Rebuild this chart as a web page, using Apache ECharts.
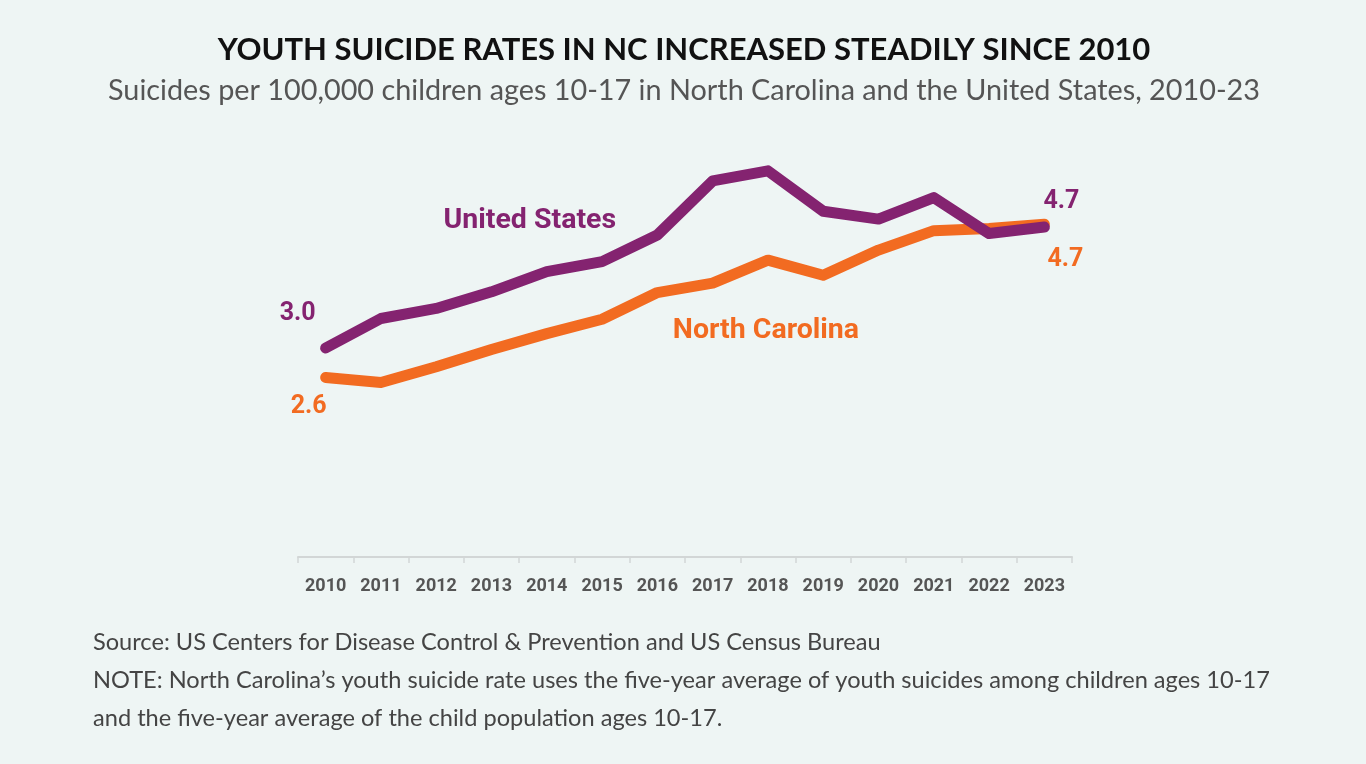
<!DOCTYPE html>
<html>
<head>
<meta charset="utf-8">
<script src="https://cdn.jsdelivr.net/npm/echarts@6/dist/echarts.min.js"></script>
<style>
  html, body { margin: 0; padding: 0; background: #eef5f4; }
  #chart { width: 1366px; height: 764px; }
</style>
</head>
<body>
<div id="chart"></div>
<script>
// Youth suicide rates per 100,000 children ages 10-17
const years = ['2010','2011','2012','2013','2014','2015','2016','2017','2018','2019','2020','2021','2022','2023'];
const usRates = [3.00, 3.41, 3.55, 3.78, 4.06, 4.20, 4.57, 5.32, 5.46, 4.90, 4.79, 5.09, 4.59, 4.68];
const ncRates = [2.59, 2.52, 2.74, 2.98, 3.20, 3.40, 3.77, 3.90, 4.22, 4.01, 4.36, 4.63, 4.66, 4.72];

const titleText = 'YOUTH SUICIDE RATES IN NC INCREASED STEADILY SINCE 2010';
const subtitleText = 'Suicides per 100,000 children ages 10-17 in North Carolina and the United States, 2010-23';
const footerLines = [
  'Source: US Centers for Disease Control & Prevention and US Census Bureau',
  'NOTE: North Carolina\u2019s youth suicide rate uses the five-year average of youth suicides among children ages 10-17',
  'and the five-year average of the child population ages 10-17.'
];

const PURPLE = '#842370';
const ORANGE = '#f26b21';
const LABEL_FONT = 'Roboto, "DejaVu Sans", sans-serif';

// first/last points carry value labels, one point carries the series name
function buildData(values, color, valueOffsets, nameIndex, name, nameOffset) {
  return values.map((v, i) => {
    const item = { value: v };
    const last = values.length - 1;
    if (i === 0 || i === last) {
      item.label = {
        show: true,
        position: 'inside',
        offset: i === 0 ? valueOffsets[0] : valueOffsets[1],
        formatter: p => p.value.toFixed(1),
        color: color,
        fontFamily: LABEL_FONT,
        fontWeight: 'bold',
        fontSize: 25
      };
    } else if (i === nameIndex) {
      item.label = {
        show: true,
        position: 'inside',
        offset: nameOffset,
        formatter: name,
        color: color,
        fontFamily: LABEL_FONT,
        fontWeight: 'bold',
        fontSize: 28.5
      };
    }
    return item;
  });
}

const chart = echarts.init(document.getElementById('chart'), null, { renderer: 'canvas' });

chart.setOption({
  backgroundColor: '#eef5f4',
  animation: false,
  grid: { left: 298, right: 294, top: 132, bottom: 200 },
  xAxis: {
    type: 'category',
    data: years,
    boundaryGap: true,
    offset: -7,
    axisLine: { show: true, lineStyle: { color: '#d2d6d6', width: 2 } },
    axisTick: { show: true, length: 6, lineStyle: { color: '#d2d6d6', width: 1.5 } },
    axisLabel: {
      margin: 20,
      color: '#555555',
      fontFamily: LABEL_FONT,
      fontWeight: 'bold',
      fontSize: 18
    },
    splitLine: { show: false }
  },
  yAxis: {
    type: 'value',
    min: 0,
    max: 6,
    show: false,
    splitLine: { show: false }
  },
  series: [
    {
      name: 'North Carolina',
      type: 'line',
      data: buildData(ncRates, ORANGE, [[-17, 29], [21, 36]], 8, 'North Carolina', [-2, 71]),
      symbol: 'circle',
      symbolSize: 1,
      itemStyle: { color: 'rgba(0,0,0,0)' },
      lineStyle: { color: ORANGE, width: 11, cap: 'round', join: 'round' },
      z: 2
    },
    {
      name: 'United States',
      type: 'line',
      data: buildData(usRates, PURPLE, [[-28, -34], [17, -25]], 4, 'United States', [-17, -51]),
      symbol: 'circle',
      symbolSize: 1,
      itemStyle: { color: 'rgba(0,0,0,0)' },
      lineStyle: { color: PURPLE, width: 11, cap: 'round', join: 'round' },
      z: 3
    }
  ],
  graphic: [
    {
      type: 'text',
      style: {
        text: titleText, x: 684, y: 50,
        textAlign: 'center', textVerticalAlign: 'middle',
        font: 'bold 31px Lato, "Open Sans", sans-serif', fill: '#111111'
      }
    },
    {
      type: 'text',
      style: {
        text: subtitleText, x: 684, y: 91,
        textAlign: 'center', textVerticalAlign: 'middle',
        font: '28.8px Lato, "Open Sans", sans-serif', fill: '#555555'
      }
    },
    ...footerLines.map((t, i) => ({
      type: 'text',
      style: {
        text: t, x: 93, y: 642 + i * 38,
        textAlign: 'left', textVerticalAlign: 'middle',
        font: '23.6px Lato, "Open Sans", sans-serif', fill: '#444444'
      }
    }))
  ]
});
</script>
</body>
</html>
